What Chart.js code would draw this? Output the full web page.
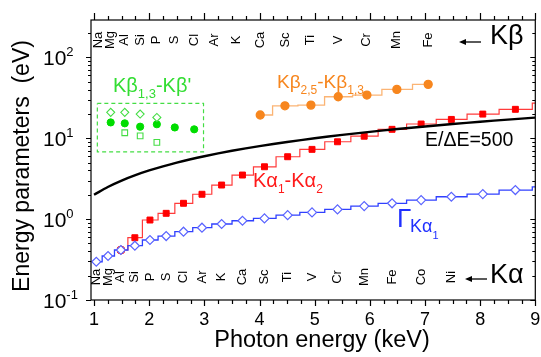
<!DOCTYPE html>
<html><head><meta charset="utf-8">
<script src="https://cdn.jsdelivr.net/npm/chart.js@4.4.0/dist/chart.umd.min.js"></script>
<style>html,body{margin:0;padding:0;background:#fff;}canvas{display:block;}</style>
</head><body>
<canvas id="c" width="541" height="357"></canvas>
<script>
// ---------- data ----------
const kaElements = ['Na','Mg','Al','Si','P','S','Cl','Ar','K','Ca','Sc','Ti','V','Cr','Mn','Fe','Co','Ni'];
const kaEnergy   = [1.041,1.254,1.487,1.740,2.014,2.308,2.622,2.957,3.313,3.691,4.090,4.510,4.952,5.414,5.898,6.403,6.930,7.478];
const kbElements = ['Na','Mg','Al','Si','P','S','Cl','Ar','K','Ca','Sc','Ti','V','Cr','Mn','Fe'];
const kbEnergy   = [1.071,1.302,1.557,1.836,2.139,2.464,2.816,3.190,3.590,4.013,4.461,4.932,5.427,5.947,6.490,7.058];

// E/dE = 500 resolution line
const resEnergy = [1,1.25,1.5,1.75,2,2.25,2.5,2.75,3,3.25,3.5,3.75,4,4.25,4.5,4.75,5,5.25,5.5,5.75,6,6.25,6.5,6.75,7,7.25,7.5,7.75,8,8.25,8.5,8.75,9];
const resValues = [2,2.5,3,3.5,4,4.5,5,5.5,6,6.5,7,7.5,8,8.5,9,9.5,10,10.5,11,11.5,12,12.5,13,13.5,14,14.5,15,15.5,16,16.5,17,17.5,18];

// K alpha1 - K alpha2 splitting (Al .. Ga)
const splitEnergy = [1.487,1.740,2.014,2.308,2.622,2.957,3.313,3.691,4.090,4.510,4.952,5.414,5.898,6.403,6.930,7.478,8.048,8.639,9.252];
const splitValues = [0.415,0.589,0.975,1.18,1.57,2.03,2.64,3.51,4.44,5.91,7.29,9.05,10.6,12.9,15.0,17.1,19.9,22.8,27.2];

// Gamma K alpha1 natural width (Na .. Ga)
const widthEnergy = [1.041,1.254,1.487,1.740,2.014,2.308,2.622,2.957,3.313,3.691,4.090,4.510,4.952,5.414,5.898,6.403,6.930,7.478,8.048,8.639,9.252];
const widthValues = [0.297,0.35,0.415,0.469,0.552,0.618,0.699,0.783,0.87,0.955,1.02,1.12,1.21,1.32,1.45,1.57,1.72,1.89,2.04,2.29,2.51];

// K beta2,5 - K beta1,3 (Ca .. Fe)
const kb25Energy = [4.013,4.461,4.932,5.427,5.947,6.490,7.058];
const kb25Values = [19.4,25.2,25.7,32.6,34.2,40.2,46.4];

// K beta1,3 - K beta' (Mg .. Cl), three sets
const kbpDiamondEnergy = [1.302,1.557,1.836,2.139];
const kbpDiamondValues = [20.9,20.9,19.9,18.1];
const kbpCircleEnergy  = [1.302,1.557,1.836,2.139,2.464,2.816];
const kbpCircleValues  = [15.7,15.3,13.9,14.9,13.6,12.9];
const kbpSquareEnergy  = [1.557,1.836,2.139];
const kbpSquareValues  = [11.7,10.7,8.9];
const kbpBoxEnergy = [1.06, 2.985];
const kbpBoxValues = [6.8, 27];

const xTickLabels = ['1','2','3','4','5','6','7','8','9'];
const yTickValues = [0.1,1,10,100];
const yTickExps   = ['-1','0','1','2'];

// ---------- helpers ----------
const FONT = "'Liberation Sans', Arial, sans-serif";
const pts = (xs, ys) => xs.map((x,i)=>({x:x, y:ys[i]}));

function rich(ctx, parts, x, y){
  let cx = x;
  for (const p of parts){
    ctx.font = p.size + 'px ' + FONT;
    ctx.fillStyle = p.color;
    ctx.fillText(p.t, cx, y + (p.dy||0));
    cx += ctx.measureText(p.t).width;
  }
}
function arrow(ctx, x1, x2, y){
  ctx.strokeStyle='#000'; ctx.fillStyle='#000'; ctx.lineWidth=1.3;
  ctx.beginPath(); ctx.moveTo(x1+5,y); ctx.lineTo(x2,y); ctx.stroke();
  ctx.beginPath(); ctx.moveTo(x1,y); ctx.lineTo(x1+7,y-3); ctx.lineTo(x1+7,y+3); ctx.closePath(); ctx.fill();
}

const deco = {
  id:'deco',
  afterDatasetsDraw(chart){
    const {ctx, chartArea:a, scales:{x, y}} = chart;
    ctx.save();
    ctx.strokeStyle='#000'; ctx.lineWidth=1.2;
    ctx.strokeRect(a.left, a.top, a.right-a.left, a.bottom-a.top);
    ctx.beginPath();
    for (let k=0; k<=32; k++){
      const v = 1 + k*0.25;
      const px = Math.round(x.getPixelForValue(v))+0.5;
      const major = (k%4===0);
      ctx.moveTo(px, a.bottom); ctx.lineTo(px, a.bottom + (major?6:4));
      ctx.moveTo(px, a.top); ctx.lineTo(px, a.top - (major?7:4));
    }
    for (let e=-1; e<=2; e++){
      for (let m=1; m<=9; m++){
        const v = m*Math.pow(10,e);
        if (v > y.max) continue;
        const py = Math.round(y.getPixelForValue(v))+0.5;
        const len = (m===1)?5:3;
        ctx.moveTo(a.left, py); ctx.lineTo(a.left-len, py);
        ctx.moveTo(a.right, py); ctx.lineTo(a.right-len, py);
      }
    }
    ctx.stroke();

    ctx.fillStyle='#000'; ctx.textAlign='center'; ctx.textBaseline='alphabetic';
    ctx.font = '18px ' + FONT;
    xTickLabels.forEach(t => ctx.fillText(t, x.getPixelForValue(+t), 325));
    ctx.textAlign='left';
    yTickValues.forEach((v,i) => {
      const py = y.getPixelForValue(v);
      rich(ctx, [{t:'10', size:21, color:'#000'}, {t:yTickExps[i], size:13, dy:-9, color:'#000'}], 43, py+7.5);
    });
    ctx.textAlign='center'; ctx.fillStyle='#000';
    ctx.font = '23.5px ' + FONT;
    ctx.fillText('Photon energy (keV)', 322, 347);
    ctx.font = '23px ' + FONT;
    ctx.save(); ctx.translate(29, 166); ctx.rotate(-Math.PI/2);
    ctx.fillText('Energy parameters  (eV)', 0, 0); ctx.restore();

    ctx.font = '13px ' + FONT; ctx.fillStyle='#000'; ctx.textBaseline='middle'; ctx.textAlign='center';
    kbElements.forEach((el,i) => {
      ctx.save(); ctx.translate(x.getPixelForValue(kbEnergy[i]), 40); ctx.rotate(-Math.PI/2);
      ctx.fillText(el, 0, 0); ctx.restore();
    });
    kaElements.forEach((el,i) => {
      ctx.save(); ctx.translate(x.getPixelForValue(kaEnergy[i]), 277); ctx.rotate(-Math.PI/2);
      ctx.fillText(el, 0, 0); ctx.restore();
    });
    ctx.textBaseline='alphabetic'; ctx.textAlign='left';

    arrow(ctx, 459, 481, 42);
    rich(ctx, [{t:'Kβ', size:27, color:'#000'}], 490, 44);
    arrow(ctx, 465, 487, 279);
    rich(ctx, [{t:'Kα', size:27, color:'#000'}], 490, 283);

    const G = '#33dd33';
    rich(ctx, [{t:'Kβ', size:20, color:G},{t:'1,3', size:13, dy:6, color:G},{t:"-Kβ'", size:20, color:G}], 113, 92);
    const O = '#f7861e';
    rich(ctx, [{t:'Kβ', size:19, color:O},{t:'2,5', size:12, dy:6, color:O},{t:'-Kβ', size:19, color:O},{t:'1,3', size:12, dy:6, color:O}], 277, 88);
    rich(ctx, [{t:'E/ΔE=500', size:19.5, color:'#000'}], 425, 146);
    const R = '#ff1a1a';
    rich(ctx, [{t:'Kα', size:20, color:R},{t:'1', size:12, dy:6, color:R},{t:'-Kα', size:20, color:R},{t:'2', size:12, dy:6, color:R}], 253, 187);
    const B = '#2030ff';
    rich(ctx, [{t:'Γ', size:26, color:B}], 397, 227);
    rich(ctx, [{t:'Kα', size:18, color:B},{t:'1', size:11, dy:7, color:B}], 410, 232);
    ctx.restore();
  }
};

new Chart(document.getElementById('c'), {
  type:'scatter',
  data:{ datasets:[
    { data: pts(kbpDiamondEnergy, kbpDiamondValues), pointStyle:'rectRot', pointRadius:4, pointBackgroundColor:'#fff', pointBorderColor:'#44dd44', pointBorderWidth:1.1, showLine:false, order:1 },
    { data: pts(kbpCircleEnergy, kbpCircleValues), pointStyle:'circle', pointRadius:3.6, pointBackgroundColor:'#00dd00', pointBorderColor:'#00dd00', pointBorderWidth:1, showLine:false, order:1 },
    { data: pts(kbpSquareEnergy, kbpSquareValues), pointStyle:'rect', pointRadius:4, pointBackgroundColor:'#fff', pointBorderColor:'#44dd44', pointBorderWidth:1.1, showLine:false, order:1 },
    { data: [{x:kbpBoxEnergy[0],y:kbpBoxValues[1]},{x:kbpBoxEnergy[1],y:kbpBoxValues[1]},{x:kbpBoxEnergy[1],y:kbpBoxValues[0]},{x:kbpBoxEnergy[0],y:kbpBoxValues[0]},{x:kbpBoxEnergy[0],y:kbpBoxValues[1]}],
      showLine:true, borderColor:'#44dd44', borderWidth:1.2, borderDash:[4,3], pointRadius:0, order:2 },
    { data: pts(kb25Energy, kb25Values), showLine:true, stepped:'middle', borderColor:'#fbb474', borderWidth:1.3,
      pointStyle:'circle', pointRadius:4, pointBackgroundColor:'#f7861e', pointBorderColor:'#f7861e', order:3 },
    { data: pts(widthEnergy, widthValues), showLine:true, stepped:'middle', borderColor:'#3040ff', borderWidth:1.3,
      pointStyle:'rectRot', pointRadius:4.5, pointBackgroundColor:'#fff', pointBorderColor:'#5a64ff', pointBorderWidth:1.2, order:4 },
    { data: pts(resEnergy, resValues), showLine:true, borderColor:'#000', borderWidth:2.4, pointRadius:0, cubicInterpolationMode:'monotone', order:5 },
    { data: pts(splitEnergy, splitValues), showLine:true, stepped:'middle', borderColor:'#ff3b3b', borderWidth:1.2,
      pointStyle: c => c.dataIndex===0 ? 'circle' : 'rect',
      pointRadius: c => c.dataIndex===0 ? 4 : 4.2,
      pointBackgroundColor: c => c.dataIndex===0 ? 'rgba(0,0,0,0)' : '#ff0000',
      pointBorderColor:'#ff0000', pointBorderWidth:1, order:6 }
  ]},
  options:{
    responsive:false, animation:false, devicePixelRatio:1,
    layout:{ padding:{ left:91, top:20, right:3, bottom:57 } },
    plugins:{ legend:{display:false}, tooltip:{enabled:false} },
    scales:{
      x:{ type:'linear', min:0.945, max:9, display:false },
      y:{ type:'logarithmic', min:0.1, max:290, display:false }
    }
  },
  plugins:[deco]
});
</script>
</body></html>
